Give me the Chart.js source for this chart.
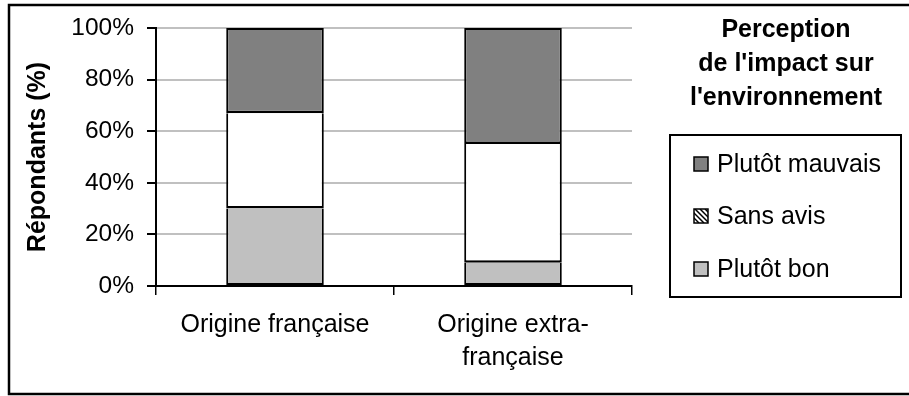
<!DOCTYPE html>
<html>
<head>
<meta charset="utf-8">
<script src="https://cdn.jsdelivr.net/npm/chart.js@4/dist/chart.umd.min.js"></script>
<style>
  html, body { margin: 0; padding: 0; background: #fff; }
  #wrap { width: 909px; height: 396px; position: relative; }
</style>
</head>
<body>
<div id="wrap"><canvas id="c" width="909" height="396"></canvas></div>
<script>
const categories = [["Origine française"], ["Origine extra-", "française"]];
const seriesNames = ["Plutôt bon", "Sans avis", "Plutôt mauvais"];
const plutotBon = [30, 9];
const sansAvis = [37, 46];
const plutotMauvais = [33, 45];
const yTicks = [0, 20, 40, 60, 80, 100];
const axisTitle = "Répondants (%)";
const legendTitle = ["Perception", "de l'impact sur", "l'environnement"];

const colors = ["#c0c0c0", "#ffffff", "#808080"];
const FONT = "'Liberation Sans', Arial, sans-serif";

const framePlugin = {
  id: 'frameAndLegend',
  afterDraw(chart) {
    const ctx = chart.ctx;
    ctx.save();
    ctx.strokeStyle = '#000';
    ctx.lineWidth = 2.5;
    ctx.strokeRect(9, 5, 915, 389);

    ctx.fillStyle = '#000';
    ctx.font = "bold 25px " + FONT;
    ctx.textAlign = 'center';
    ctx.textBaseline = 'alphabetic';
    const ty = [37, 71, 105];
    legendTitle.forEach((t, i) => ctx.fillText(t, 786, ty[i]));

    ctx.lineWidth = 2;
    ctx.strokeRect(670, 135, 231, 162);

    const ds = chart.data.datasets.slice().reverse();
    const baselines = [172, 224, 277];
    ctx.font = "25px " + FONT;
    ctx.textAlign = 'left';
    ds.forEach((d, i) => {
      const by = baselines[i];
      const sx = 694, sy = by - 15, s = 14;
      ctx.fillStyle = d.backgroundColor;
      ctx.fillRect(sx, sy, s, s);
      if (d.label === "Sans avis") {
        ctx.save();
        ctx.beginPath();
        ctx.rect(sx, sy, s, s);
        ctx.clip();
        ctx.strokeStyle = '#000';
        ctx.lineWidth = 1.5;
        for (let k = -s; k <= s; k += 5) {
          ctx.beginPath();
          ctx.moveTo(sx + k, sy);
          ctx.lineTo(sx + k + s, sy + s);
          ctx.stroke();
        }
        ctx.restore();
      }
      ctx.strokeStyle = '#000';
      ctx.lineWidth = 1.5;
      ctx.strokeRect(sx, sy, s, s);
      ctx.fillStyle = '#000';
      ctx.fillText(d.label, 717, by);
    });
    ctx.restore();
  }
};

const n = seriesNames.length;
new Chart(document.getElementById('c'), {
  type: 'bar',
  data: {
    labels: categories,
    datasets: [plutotBon, sansAvis, plutotMauvais].map((vals, i) => ({
      label: seriesNames[i],
      data: vals,
      backgroundColor: colors[i],
      borderColor: '#000',
      borderWidth: { left: 2, right: 2, top: i === n - 1 ? 2 : 0, bottom: i === 0 ? 2 : 2.5 },
      borderSkipped: false,
      inflateAmount: 0,
      categoryPercentage: 1,
      barPercentage: 0.41
    }))
  },
  options: {
    responsive: false,
    animation: false,
    devicePixelRatio: 1,
    layout: { padding: { left: 0, top: 28, right: 277, bottom: 0 } },
    plugins: {
      legend: { display: false },
      tooltip: { enabled: false },
      title: { display: false }
    },
    scales: {
      x: {
        stacked: true,
        grid: { display: true, drawOnChartArea: false, drawTicks: true, tickLength: 9, tickColor: '#000', lineWidth: 1.5, offset: true },
        border: { display: true, color: '#000', width: 2 },
        ticks: { color: '#000', font: { family: FONT, size: 25, lineHeight: 1.32 }, padding: 14, maxRotation: 0, autoSkip: false },
        afterFit(scale) { scale.height = 110; }
      },
      y: {
        stacked: true,
        min: 0, max: 100,
        afterBuildTicks(scale) { scale.ticks = yTicks.map(v => ({ value: v })); },
        grid: { color: '#c0c0c0', lineWidth: 2, tickColor: '#000', tickLength: 9, drawTicks: true },
        border: { display: true, color: '#000', width: 2 },
        ticks: { color: '#000', font: { family: FONT, size: 24.5 }, padding: 13, callback: v => v + '%' },
        title: { display: true, text: axisTitle, color: '#000', font: { family: FONT, size: 25, weight: 'bold' }, padding: { top: 23, bottom: 0 } },
        afterFit(scale) { scale.width = 156; }
      }
    }
  },
  plugins: [framePlugin]
});
</script>
</body>
</html>
